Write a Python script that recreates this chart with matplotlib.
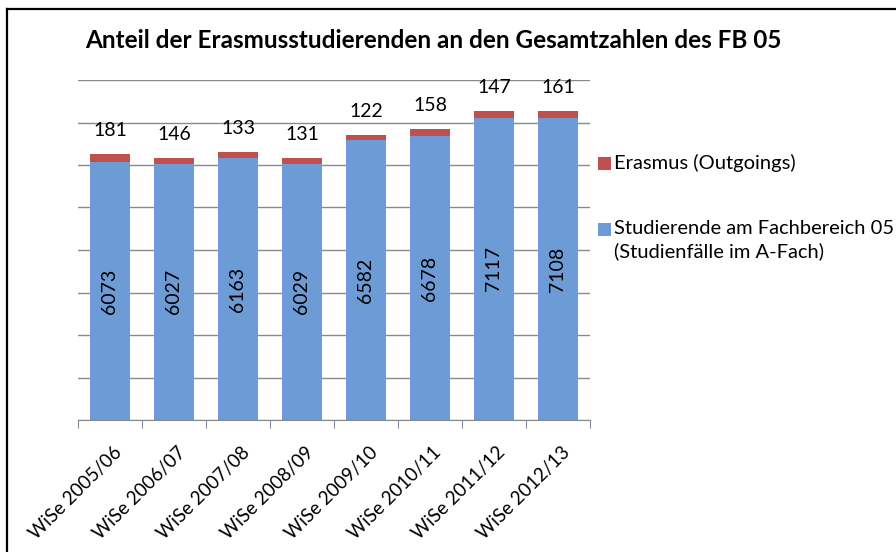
import numpy as np
import matplotlib
matplotlib.use('Agg')
import matplotlib.pyplot as plt
from matplotlib.patches import Rectangle
from matplotlib.lines import Line2D

plt.rcParams["font.family"] = ["Lato", "DejaVu Sans"]

semester = ["WiSe 2005/06", "WiSe 2006/07", "WiSe 2007/08", "WiSe 2008/09",
            "WiSe 2009/10", "WiSe 2010/11", "WiSe 2011/12", "WiSe 2012/13"]
studierende = [6073, 6027, 6163, 6029, 6582, 6678, 7117, 7108]
erasmus = [181, 146, 133, 131, 122, 158, 147, 161]

blue = '#6C9BD5'
red = '#C0504D'
W, H = 896., 552.

fig = plt.figure(figsize=(8.96, 5.52), dpi=100)
ax = fig.add_axes([78/W, 1-420/H, 512/W, 340/H])

x = np.arange(len(semester))
ax.bar(x, studierende, width=0.625, color=blue, zorder=2)
ax.bar(x, erasmus, width=0.625, bottom=studierende, color=red, zorder=2)

for i in range(len(x)):
    ax.text(x[i], studierende[i]/2., str(studierende[i]), rotation=90,
            ha='center', va='center', fontsize=14, color='black', zorder=3)
    ax.annotate(str(erasmus[i]), (x[i], studierende[i]+erasmus[i]),
                xytext=(0, 17), textcoords='offset points',
                ha='center', va='center', fontsize=14)

ax.set_xlim(-0.5, len(x)-0.5)
ax.set_ylim(0, 8000)
ax.set_yticks(np.arange(0, 8001, 1000))
ax.yaxis.grid(True, color='#8a8a8a', linewidth=1.0, zorder=0)
ax.tick_params(axis='y', left=False, labelleft=False)
for s in ['left', 'right', 'top']:
    ax.spines[s].set_visible(False)
ax.spines['bottom'].set_color('#8a8a8a')

ax.set_xticks(np.append(x - 0.5, len(x)-0.5))
ax.set_xticklabels([])
ax.tick_params(axis='x', direction='out', length=6, color='#8a8a8a')
for i, lab in enumerate(semester):
    ax.annotate(lab, (x[i], 0), xytext=(2, -17), textcoords='offset points',
                rotation=45, rotation_mode='anchor', ha='right', va='top',
                fontsize=13.5)

fig.text(433/W, 1-40/H, "Anteil der Erasmusstudierenden an den Gesamtzahlen des FB 05",
         ha='center', va='center', fontsize=17.5, fontweight='bold')

# legend
fig.add_artist(Rectangle((598/W, 1-170/H), 13/W, 13/H, transform=fig.transFigure,
                         facecolor=red, edgecolor='none'))
fig.text(614/W, 1-163/H, "Erasmus (Outgoings)", ha='left', va='center', fontsize=14.5)
fig.add_artist(Rectangle((598/W, 1-236/H), 13/W, 13/H, transform=fig.transFigure,
                         facecolor=blue, edgecolor='none'))
fig.text(614/W, 1-228/H, "Studierende am Fachbereich 05", ha='left', va='center', fontsize=14.5)
fig.text(614/W, 1-251/H, "(Studienfälle im A-Fach)", ha='left', va='center', fontsize=14.5)

# frame
fig.add_artist(Line2D([7/W, 7/W], [0, 1-9/H], transform=fig.transFigure, color='black', linewidth=1.6))
fig.add_artist(Line2D([7/W, 1], [1-9/H, 1-9/H], transform=fig.transFigure, color='black', linewidth=1.6))

plt.savefig('out.png', dpi=100)
plt.close()
